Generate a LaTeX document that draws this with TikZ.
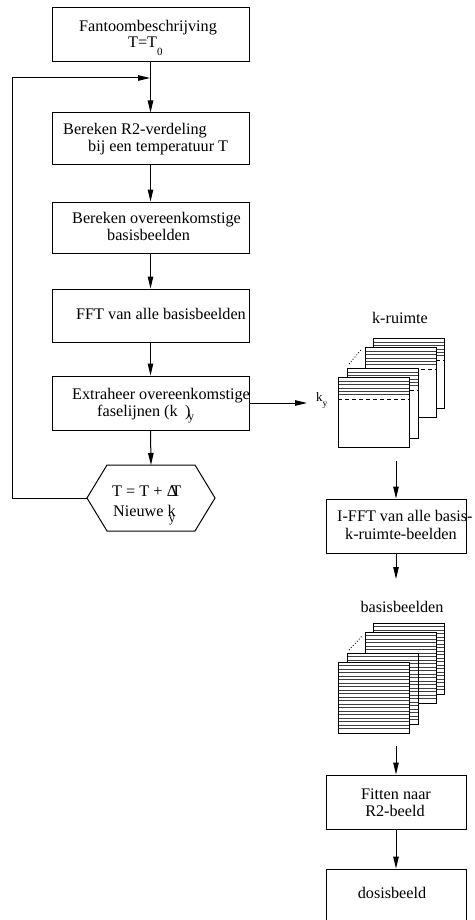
\documentclass[tikz,border=0pt]{standalone}
\usepackage{fontspec}
\setmainfont{Liberation Serif}
\usetikzlibrary{arrows.meta}

% one frame of a stack: k-space frame (lines at top + dashed line)
\newcommand\kspaceframe[2]{%
  \fill[white] (#1,#2) rectangle ++(71,70);
  \foreach \d in {4,7.4,10.8,14.2,17.6}
    \draw[rowline] (#1,{#2+\d}) -- ++(71,0);
  \draw[dashline] (#1,{#2+22}) -- ++(71,0);
  \draw[frameline] (#1,#2) rectangle ++(71,70);}
% one frame of a stack: image frame filled with lines
\newcommand\imageframe[2]{%
  \fill[white] (#1,#2) rectangle ++(71,71);
  \foreach \d in {3.5,7,...,68}
    \draw[rowline] (#1,{#2+\d}) -- ++(71,0);
  \draw[frameline] (#1,#2) rectangle ++(71,71);}

\begin{document}
\begin{tikzpicture}[x=1pt,y=-1pt,
  font=\fontsize{16.2}{17}\selectfont,
  box/.style={draw, line width=1pt, inner sep=0pt, fill=white},
  mainbox/.style={box, minimum width=197pt},
  sidebox/.style={box, minimum width=140pt, minimum height=54pt},
  txt/.style={inner sep=0pt, anchor=base west},
  ctxt/.style={inner sep=0pt, anchor=base},
  flow/.style={line width=1pt, -{Triangle[length=12pt,width=5.5pt]}},
  frameline/.style={line width=1pt},
  rowline/.style={line width=0.6pt, black!75},
  dashline/.style={line width=1pt, dash pattern=on 4pt off 3pt},
  dots/.style={line width=0.9pt, dotted}]
\useasboundingbox (0,0) rectangle (474,920);

% ---------- main loop ----------
\node[mainbox, minimum height=54pt] (b1) at (150.5,35) {};
\node[txt] (b1a) at (79,32) {Fantoombeschrijving};
\node[txt] (b1b) at (128,48) {T=T\raisebox{-8pt}{\fontsize{11}{11}\selectfont 0}};

\node[mainbox, minimum height=52pt] (b2) at (150.5,139) {};
\node[txt] (b2a) at (63,135) {Bereken R2-verdeling};
\node[txt] (b2b) at (88,152) {bij een temperatuur T};

\node[mainbox, minimum height=51pt] (b3) at (150.5,227.5) {};
\node[txt] (b3a) at (72,223) {Bereken overeenkomstige};
\node[txt] (b3b) at (107,240) {basisbeelden};

\node[mainbox, minimum height=53pt] (b4) at (150.5,315.5) {};
\node[txt] (b4a) at (76,319) {FFT van alle basisbeelden};

\node[mainbox, minimum height=54pt] (b5) at (150.5,403) {};
\node[txt] (b5a) at (72,399) {Extraheer overeenkomstige};
\node[txt] (b5b) at (97,416) {faselijnen (k\hspace{7.5pt})\kern-2.5pt\raisebox{-4.5pt}{\fontsize{12}{12}\selectfont y}};

% hexagon: next temperature step
\coordinate (hxT) at (151,465);
\coordinate (hxL) at (87,498);
\draw[line width=1pt] (107,465) -- (195,465) -- (215,498) -- (195,531)
  -- (107,531) -- (hxL) -- cycle;
\node[txt] (hxa) at (112,496) {T = T +\kern4.5pt Δ\kern-6pt T};
\node[txt] (hxb) at (113,516) {Nieuwe k\kern-6.5pt\raisebox{-6pt}{\fontsize{12}{12}\selectfont y}};

\coordinate (loopin) at (150,78);
\draw[flow] (b1.south) -- (b2.north);
\draw[flow] (b2.south) -- (b3.north);
\draw[flow] (b3.south) -- (b4.north);
\draw[flow] (b4.south) -- (b5.north);
\draw[flow] (b5.south) -- (hxT);
\draw[flow] (hxL) -- (12,498) |- (loopin);

% ---------- k-space stack ----------
\node[ctxt] (klab) at (400,323) {k-ruimte};
\kspaceframe{373}{338}
\kspaceframe{365}{347}
\kspaceframe{347}{368}
\kspaceframe{338}{377}
\draw[dots] (349,364) -- (361,350);
\node[txt, font=\fontsize{13}{13}\selectfont] (ky) at (316,401) {k\raisebox{-5pt}{\fontsize{9.5}{9.5}\selectfont y}};
\coordinate (kin) at (307,403);
\draw[flow] (b5.east |- kin) -- (kin);

% ---------- right column ----------
\coordinate (kout) at (396,461);
\node[sidebox] (ifft) at (396,526) {};
\node[txt] (ifa) at (337,521) {I-FFT van alle basis-};
\node[txt] (ifb) at (345,539) {k-ruimte-beelden};
\draw[flow] (kout) -- (ifft.north);

\node[ctxt] (blab) at (402,612) {basisbeelden};
\coordinate (bin) at (396,579);
\draw[flow] (ifft.south) -- (bin);

\imageframe{373}{623}
\imageframe{365}{632}
\imageframe{347}{653}
\imageframe{338}{662}
\draw[dots] (349,650) -- (362,636);

\coordinate (bout) at (396,746);
\node[sidebox] (fit) at (396,802) {};
\node[ctxt] (fita) at (396,799) {Fitten naar};
\node[ctxt] (fitb) at (395,816) {R2-beeld};
\draw[flow] (bout) -- (fit.north);

\node[sidebox] (dose) at (396,896) {};
\node[ctxt] (dosa) at (392,898) {dosisbeeld};
\draw[flow] (fit.south) -- (dose.north);
\end{tikzpicture}
\end{document}
